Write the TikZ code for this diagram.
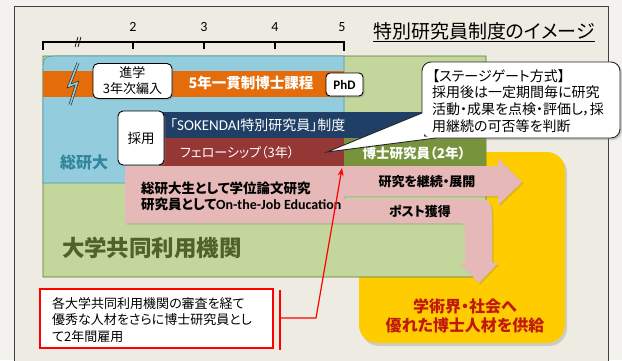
\documentclass[tikz,border=0pt]{standalone}
\usepackage{fontspec}
\setmainfont{Carlito}
\newfontfamily\jp{Noto Sans CJK JP}
\newfontfamily\jpp[RawFeature=+palt]{Noto Sans CJK JP}
\newfontfamily\lat{Carlito}
\usetikzlibrary{shadows,arrows.meta,calc}
\definecolor{outerbg}{HTML}{F3F2EE}
\definecolor{panelbg}{HTML}{EEECE2}
\definecolor{sokenblue}{HTML}{93CDDD}
\definecolor{sokenedge}{HTML}{4A9AB0}
\definecolor{kyogreen}{HTML}{C3D69B}
\definecolor{kyoedge}{HTML}{5E7530}
\definecolor{phdorange}{HTML}{E46C0A}
\definecolor{navyband}{HTML}{1F3F66}
\definecolor{fellowred}{HTML}{953735}
\definecolor{postdoc}{HTML}{77933C}
\definecolor{pinkarrow}{HTML}{E6B9B8}
\definecolor{gold}{HTML}{FFCC00}
\definecolor{sokentext}{HTML}{31859C}
\definecolor{kyotext}{HTML}{4F6228}
\definecolor{supplytext}{HTML}{C0180C}
\newcommand\jpsize[2]{\jp\fontsize{#1}{#2}\selectfont}
\newcommand\jppsize[2]{\jpp\fontsize{#1}{#2}\selectfont}
\begin{document}
\begin{tikzpicture}[x=1pt,y=-1pt,
  whitebox/.style={draw=black, line width=0.9pt, fill=white, rounded corners=5pt,
    drop shadow={opacity=0.35,shadow xshift=1.5pt,shadow yshift=-1.5pt}},
  txt/.style={inner sep=0pt},
  bandtext/.style={txt, text=white},
  pinktext/.style={txt, font=\jppsize{13}{16}\bfseries},
  pinkshape/.style={fill=pinkarrow, drop shadow={opacity=0.3,shadow xshift=1.5pt,shadow yshift=-1.5pt}},
  numlabel/.style={txt, font=\fontsize{14}{16}\selectfont},
]
\useasboundingbox (0,0) rectangle (622,360);
\fill[outerbg] (0,0) rectangle (622,360);
\draw[fill=panelbg, draw=black!75, line width=0.9pt] (14,6) rectangle (608,364);

% timeline
\draw[line width=1.3pt] (43,50) -- (43,42) -- (344,42) -- (344,51);
\foreach \x/\n in {133/2,204/3,275/4}{
  \draw[line width=1.3pt] (\x,42) -- (\x,49);
  \node[numlabel] (t\n) at (\x,27) {\n};
}
\node[numlabel] (t5) at (342,27) {5};
\draw[line width=0.7pt] (75,47) -- (78,37) (78,47) -- (81,37);

% title
\node[txt, font=\jppsize{19}{20}, anchor=west] (title) at (373,31) {特別研究員制度のイメージ};
\coordinate (ul) at (0,41.5);
\draw[line width=0.9pt] (title.west |- ul) -- (title.east |- ul);

% yellow box
\fill[gold, rounded corners=18pt, drop shadow={opacity=0.3,shadow xshift=2pt,shadow yshift=-3pt}] (359,152) rectangle (565,343);

% green region
\draw[fill=kyogreen, draw=kyoedge, line width=0.8pt] (43,56) -- (486,56) -- (486,262) .. controls (486,277) .. (471,277) -- (43,277) -- cycle;
% blue region
\draw[fill=sokenblue, draw=sokenedge, line width=0.6pt] (43,183) -- (43,74) .. controls (43,56) .. (61,56) -- (344,56) -- (344,183) -- cycle;

% orange band
\fill[phdorange] (43,71) rectangle (344,97);
\node[bandtext, font=\jpsize{14.5}{16}\bfseries] (course) at (251,83) {5年一貫制博士課程};

% bolt
\draw[draw=black!85, line width=0.6pt, double=sokenblue, double distance=1.6pt, line join=miter] (78,63) -- (69,86) -- (77,83) -- (70,105);

% entry box
\node[whitebox, minimum width=79pt, minimum height=35pt, align=center, font=\jpsize{13}{16}, inner sep=0pt] (entry) at (132.5,81) {進学\\3年次編入};

% PhD
\node[whitebox, rounded corners=4pt, minimum width=37pt, minimum height=23pt, font=\fontsize{13}{15}\selectfont\bfseries, inner sep=0pt] (phd) at (344.5,84.5) {PhD};

% bands
\fill[navyband] (159,112) rectangle (486,138);
\fill[fellowred] (159,138) rectangle (344,167);
\fill[postdoc] (344,138) rectangle (486,167);
\node[bandtext, anchor=west, font=\jppsize{14}{16}] (sokendai) at (170,125) {「{\lat\fontsize{15}{16}\selectfont SOKENDAI}特別研究員」制度};
\node[bandtext, anchor=west, font=\jppsize{13}{16}] (fellow) at (180,153) {フェローシップ（3年）};
\node[bandtext, font=\jppsize{13.5}{16}\bfseries] (pd) at (414,153) {博士研究員（2年）};

% hire box
\node[whitebox, minimum width=46pt, minimum height=54pt, font=\jpsize{13.5}{16}, inner sep=0pt] (hire) at (141,138) {採用};

% soken label
\node[txt, text=sokentext, font=\jpsize{16}{18}\bfseries] (soken) at (84,162) {総研大};

% pink shapes
\fill[pinkshape] (125,166) -- (498,166) -- (498,158) -- (522,182) -- (498,205) -- (498,196) -- (344,196) -- (344,223) -- (125,223) -- cycle;
\fill[pinkshape] (344,199) -- (468,199) .. controls (492,199) .. (492,223) -- (492,263) -- (498,263) -- (479,283) -- (460,263) -- (465,263) -- (465,232) .. controls (465,223) .. (456,223) -- (344,223) -- cycle;
\node[pinktext, anchor=west, align=left, font=\jppsize{13.5}{16}\bfseries] (thesis) at (141,196) {総研大生として学位論文研究\\研究員として{\lat\bfseries\fontsize{14}{16}\selectfont On-the-Job Education}};
\node[pinktext] (continue) at (427,182) {研究を継続・展開};
\node[pinktext] (post) at (420,211) {ポスト獲得};

% institutes label
\node[txt, text=kyotext, font=\jpsize{22.5}{26}\bfseries] (iuri) at (152,248) {大学共同利用機関};

% supply text
\node[txt, text=supplytext, font=\jppsize{16}{19}\bfseries, align=center] (supply) at (465,316) {学術界・社会へ\\優れた博士人材を供給};

% callout
\draw[fill=white, draw=black!85, line width=0.9pt, rounded corners=9pt,
  drop shadow={opacity=0.35,shadow xshift=2pt,shadow yshift=-2pt}] (422,62) rectangle (620,138);
\coordinate (tailA) at (422,113);
\coordinate (tailT) at (327,152);
\coordinate (tailB) at (436,138);
\fill[white] (tailA) -- (tailT) -- (tailB) -- (436,136.5) -- (424,136.5) -- (424,113) -- cycle;
\draw[draw=black!85, line width=0.9pt, line join=miter] (tailA) -- (tailT) -- (tailB);
\node[txt, anchor=north west, align=left, font=\jppsize{14}{16.7}] (stagetext) at (432,69) {【ステージゲート方式】\\採用後は一定期間毎に研究\\活動・成果を点検・評価し，採\\用継続の可否等を判断};

% note box
\node[draw=red, line width=1.4pt, fill=white, minimum width=233pt, minimum height=59pt, inner sep=0pt] (notebox) at (156.5,318.5) {};
\node[txt, anchor=west, align=left, font=\jppsize{13}{16.5}] (notetext) at (52,320) {各大学共同利用機関の審査を経て\\優秀な人材をさらに博士研究員とし\\て2年間雇用};

% bracket and red arrow
\draw[red, line width=1.3pt] (280,290) -- (280,350);
\coordinate (brk) at (280,318);
\coordinate (bend) at (316,318);
\coordinate (gate) at (342,168);
\draw[red, line width=1.2pt, -{Stealth[length=8pt,width=6pt]}] (brk) -- (bend) -- (gate);
\end{tikzpicture}
\end{document}
